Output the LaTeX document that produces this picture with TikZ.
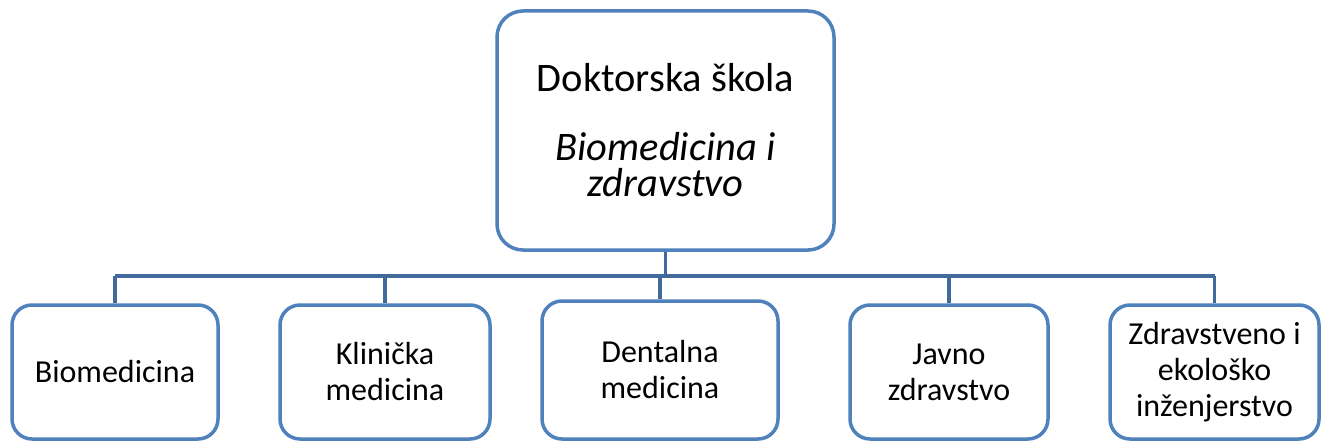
\documentclass[tikz,border=0pt]{standalone}
\usepackage{fontspec}
\setmainfont{Carlito}
\definecolor{boxblue}{HTML}{4F81BD}
\definecolor{linkblue}{HTML}{41699A}
\begin{document}
\begin{tikzpicture}[x=1pt,y=-1pt,
  box/.style={draw=boxblue, line width=3.5pt, rounded corners=20pt, fill=white,
    align=center, inner sep=0pt, font=\fontsize{32}{36}\selectfont},
  link/.style={draw=linkblue, line width=3.5pt}]
\fill[white] (0,0) rectangle (1322,441);
\useasboundingbox (0,0) rectangle (1322,441);
\node[box, rounded corners=26pt, minimum width=337pt, minimum height=239pt,
  font=\fontsize{40.5}{36}\selectfont] (top) at (665.5,130.5)
  {Doktorska škola\\[33pt]\textit{Biomedicina i}\\\textit{zdravstvo}};
\node[box, minimum width=206pt, minimum height=134pt] (b1) at (115,372) {Biomedicina};
\node[box, minimum width=210pt, minimum height=134pt] (b2) at (385,372) {Klinička\\medicina};
\node[box, minimum width=236pt, minimum height=138pt] (b3) at (660,370) {Dentalna\\medicina};
\node[box, minimum width=198pt, minimum height=134pt] (b4) at (949,372) {Javno\\zdravstvo};
\node[box, minimum width=209pt, minimum height=134pt] (b5) at (1214.5,372) {Zdravstveno i\\ekološko\\inženjerstvo};
\coordinate (bus) at (0,276);
\draw[link] (top.south) -- (top.south |- bus);
\draw[link] (b1.north |- bus) -- (b5.north |- bus);
\foreach \n in {b1,b2,b3,b4,b5} \draw[link] (\n.north) -- (\n.north |- bus);
\end{tikzpicture}
\end{document}
